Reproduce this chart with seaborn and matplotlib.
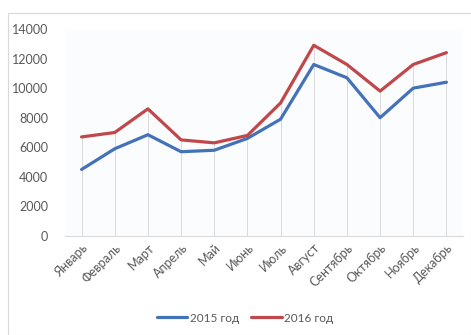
import matplotlib
matplotlib.use("Agg")
import matplotlib.pyplot as plt
import seaborn as sns
import pandas as pd
import numpy as np

months = ["Январь", "Февраль", "Март", "Апрель", "Май", "Июнь", "Июль",
          "Август", "Сентябрь", "Октябрь", "Ноябрь", "Декабрь"]
values_2015 = [4500, 5900, 6850, 5700, 5800, 6600, 7900, 11600, 10700, 8000, 10000, 10400]
values_2016 = [6700, 7000, 8600, 6500, 6300, 6800, 9000, 12900, 11600, 9800, 11600, 12400]
series_names = ["2015 год", "2016 год"]
yticks = [0, 2000, 4000, 6000, 8000, 10000, 12000, 14000]

sns.set_theme(style="white")
plt.rcParams['font.family'] = ['Lato', 'DejaVu Sans']

df = pd.DataFrame({
    "month": months * 2,
    "x": list(range(len(months))) * 2,
    "value": values_2015 + values_2016,
    "series": [series_names[0]] * len(months) + [series_names[1]] * len(months),
})

fig = plt.figure(figsize=(4.71, 3.35), dpi=100)
# outer chart border
fig.patches.append(plt.Rectangle((8/471, 0), 1 - 8/471, 1 - 13/335, transform=fig.transFigure,
                                 fill=False, edgecolor="#d9d9d9", linewidth=0.8))
ax = fig.add_axes([65/471, 1 - 236/335, (463 - 65)/471, (236 - 29)/335])

# drop lines
tops = np.maximum(values_2015, values_2016)
ax.vlines(range(len(months)), 0, tops, colors="#d9d9d9", linewidth=0.7, zorder=1)

palette = {series_names[0]: "#4472b8", series_names[1]: "#c0474a"}
sns.lineplot(data=df, x="x", y="value", hue="series", palette=palette, linewidth=2.3,
             ax=ax, legend=False, zorder=3)

ax.set_xlim(-0.5, len(months) - 0.5)
ax.set_ylim(0, 14000)
ax.set_yticks(yticks)
ax.set_yticklabels([str(v) for v in yticks], color="#595959", fontsize=9)
ax.set_xticks(range(len(months)))
ax.set_xticklabels(months, rotation=45, ha="right", rotation_mode="anchor",
                   color="#595959", fontsize=9)
ax.tick_params(axis="both", length=0, pad=4)
ax.tick_params(axis="y", pad=12)
ax.set_xlabel("")
ax.set_ylabel("")
for s in ["top", "right", "left"]:
    ax.spines[s].set_visible(False)
ax.spines["bottom"].set_color("#d9d9d9")
ax.spines["bottom"].set_linewidth(0.8)
ax.set_facecolor("#fbfcfe")

from matplotlib.lines import Line2D
handles = [Line2D([0], [0], color=palette[n], linewidth=2.3) for n in series_names]
fig.legend(handles, series_names, loc="center", bbox_to_anchor=(245/471, 1 - 318/335),
           ncol=2, frameon=False, fontsize=8.5, handlelength=2.6, columnspacing=1.0,
           handletextpad=0.2, labelcolor="#595959")

fig.savefig("out.png", dpi=100)
